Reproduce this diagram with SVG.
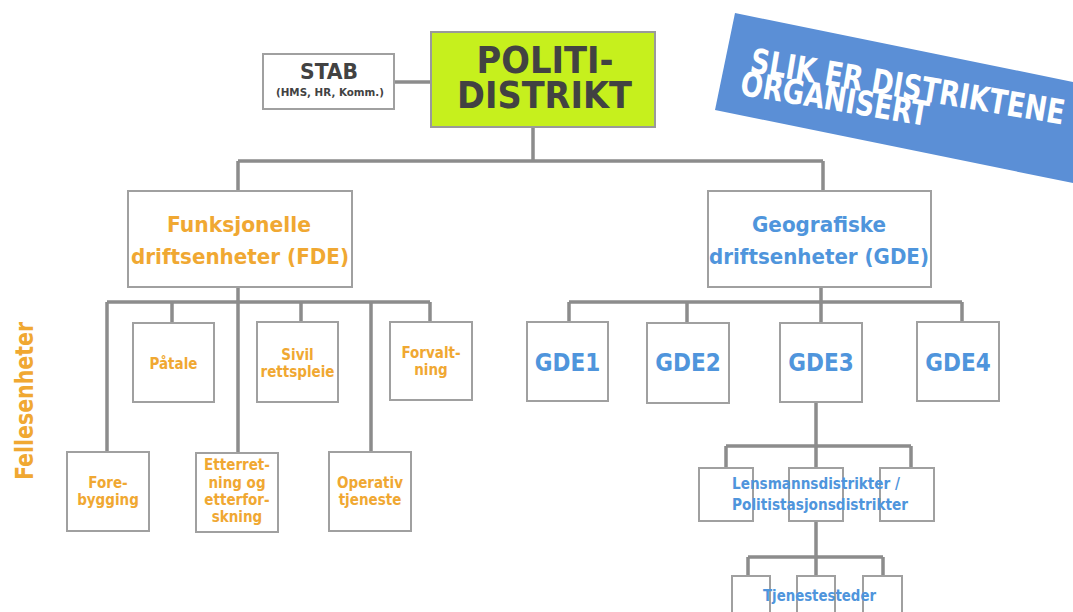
<svg xmlns="http://www.w3.org/2000/svg" width="1073" height="612" viewBox="0 0 1073 612">
<style>
text{font-family:'DejaVu Sans Condensed','DejaVu Sans',sans-serif;font-stretch:condensed;font-weight:bold;text-anchor:middle}
.box{fill:#fff;stroke:#a0a0a0;stroke-width:2}
.con{fill:none;stroke:#8c8c8c;stroke-width:3.5}
.or{fill:#f0a832}
.bl{fill:#4f95dc}
.dk{fill:#424242}
.s14{font-size:15px}
.s15{font-size:15px}
.s21{font-size:22px}
</style>
<rect width="1073" height="612" fill="#fff"/>
<g id="banner">
<polygon points="735,13 1073,82 1073,183 715,110" fill="#5b8fd6"/>
<g transform="translate(749,72) rotate(9.5)" style="font-size:34px">
<text x="0" y="0" style="text-anchor:start;fill:#fff" textLength="318" lengthAdjust="spacingAndGlyphs">SLIK ER DISTRIKTENE</text>
<text x="-6" y="24" style="text-anchor:start;fill:#fff" textLength="190" lengthAdjust="spacingAndGlyphs">ORGANISERT</text>
</g>
</g>
<g id="connectors">
<path class="con" d="M394,82H431"/>
<path class="con" d="M533,127V161M238,161H823M238,161V191M823,161V191"/>
<path class="con" d="M238,287V302M107,302H430M107,302V452M172,302V323M238,302V453M301,302V322M371,302V452M430,302V322"/>
<path class="con" d="M821,287V302M569,302H962M569,302V322M687,302V323M821,302V323M962,302V322"/>
<path class="con" d="M816,402V446M726,446H911M726,446V468M816,446V468M911,446V468"/>
<path class="con" d="M816,521V557M748,557H883M748,557V576M816,557V576M883,557V576"/>
</g>
<g id="stab">
<rect class="box" x="263" y="54" width="131" height="55"/>
<text class="dk" x="329" y="79" style="font-size:22px" textLength="58" lengthAdjust="spacingAndGlyphs">STAB</text>
<text class="dk" x="330" y="96" style="font-size:10.5px" textLength="108" lengthAdjust="spacingAndGlyphs">(HMS, HR,  Komm.)</text>
</g>
<g id="politidistrikt">
<rect x="431" y="32" width="224" height="95" fill="#c6f01d" stroke="#9a9a9a" stroke-width="2"/>
<text class="dk" x="545" y="73" style="font-size:37px" textLength="137" lengthAdjust="spacingAndGlyphs">POLITI-</text>
<text class="dk" x="544.5" y="108" style="font-size:37px" textLength="175" lengthAdjust="spacingAndGlyphs">DISTRIKT</text>
</g>
<g id="fde">
<rect class="box" x="128" y="191" width="224" height="96"/>
<text class="or s21" x="239" y="232" textLength="144" lengthAdjust="spacingAndGlyphs">Funksjonelle</text>
<text class="or s21" x="240" y="264" textLength="218" lengthAdjust="spacingAndGlyphs">driftsenheter (FDE)</text>
</g>
<g id="gde">
<rect class="box" x="708" y="191" width="223" height="96"/>
<text class="bl s21" x="819" y="232" textLength="134" lengthAdjust="spacingAndGlyphs">Geografiske</text>
<text class="bl s21" x="819" y="264" textLength="220" lengthAdjust="spacingAndGlyphs">driftsenheter (GDE)</text>
</g>
<g id="patale">
<rect class="box" x="133" y="323" width="81" height="79"/>
<text class="or s14" x="173.5" y="369">Påtale</text>
</g>
<g id="sivil">
<rect class="box" x="257" y="322" width="81" height="80"/>
<text class="or s14" x="297.5" y="360">Sivil</text>
<text class="or s14" x="297.5" y="377">rettspleie</text>
</g>
<g id="forvaltning">
<rect class="box" x="390" y="322" width="82" height="78"/>
<text class="or s14" x="431" y="358">Forvalt-</text>
<text class="or s14" x="431" y="375">ning</text>
</g>
<g id="forebygging">
<rect class="box" x="67" y="452" width="82" height="79"/>
<text class="or s14" x="108" y="488">Fore-</text>
<text class="or s14" x="108" y="505">bygging</text>
</g>
<g id="etterretning">
<rect class="box" x="196" y="453" width="82" height="79"/>
<text class="or s14" x="237" y="470">Etterret-</text>
<text class="or s14" x="237" y="487.5">ning og</text>
<text class="or s14" x="237" y="505">etterfor-</text>
<text class="or s14" x="237" y="522">skning</text>
</g>
<g id="operativ">
<rect class="box" x="329" y="452" width="82" height="79"/>
<text class="or s14" x="370" y="488">Operativ</text>
<text class="or s14" x="370" y="505">tjeneste</text>
</g>
<g id="fellesenheter">
<text class="or" transform="translate(33,401) rotate(-90)" style="font-size:25px" textLength="158" lengthAdjust="spacingAndGlyphs">Fellesenheter</text>
</g>
<g id="gde1">
<rect class="box" x="527" y="322" width="81" height="79"/>
<text class="bl" x="567.5" y="371" style="font-size:24px">GDE1</text>
</g>
<g id="gde2">
<rect class="box" x="647" y="323" width="82" height="80"/>
<text class="bl" x="688" y="371" style="font-size:24px">GDE2</text>
</g>
<g id="gde3">
<rect class="box" x="780" y="323" width="82" height="79"/>
<text class="bl" x="821" y="371" style="font-size:24px">GDE3</text>
</g>
<g id="gde4">
<rect class="box" x="917" y="322" width="82" height="79"/>
<text class="bl" x="958" y="371" style="font-size:24px">GDE4</text>
</g>
<g id="lensmannsdistrikter">
<rect class="box" x="699" y="468" width="54" height="53"/>
<rect class="box" x="789" y="468" width="54" height="53"/>
<rect class="box" x="880" y="468" width="54" height="53"/>
<text class="bl s15" x="816" y="489" textLength="168" lengthAdjust="spacingAndGlyphs">Lensmannsdistrikter /</text>
<text class="bl s15" x="820" y="510" textLength="176" lengthAdjust="spacingAndGlyphs">Politistasjonsdistrikter</text>
</g>
<g id="tjenestesteder">
<rect class="box" x="732" y="576" width="38" height="40"/>
<rect class="box" x="797" y="576" width="38" height="40"/>
<rect class="box" x="863" y="576" width="39" height="40"/>
<text class="bl s15" x="819.5" y="601" textLength="113" lengthAdjust="spacingAndGlyphs">Tjenestesteder</text>
</g>
</svg>
